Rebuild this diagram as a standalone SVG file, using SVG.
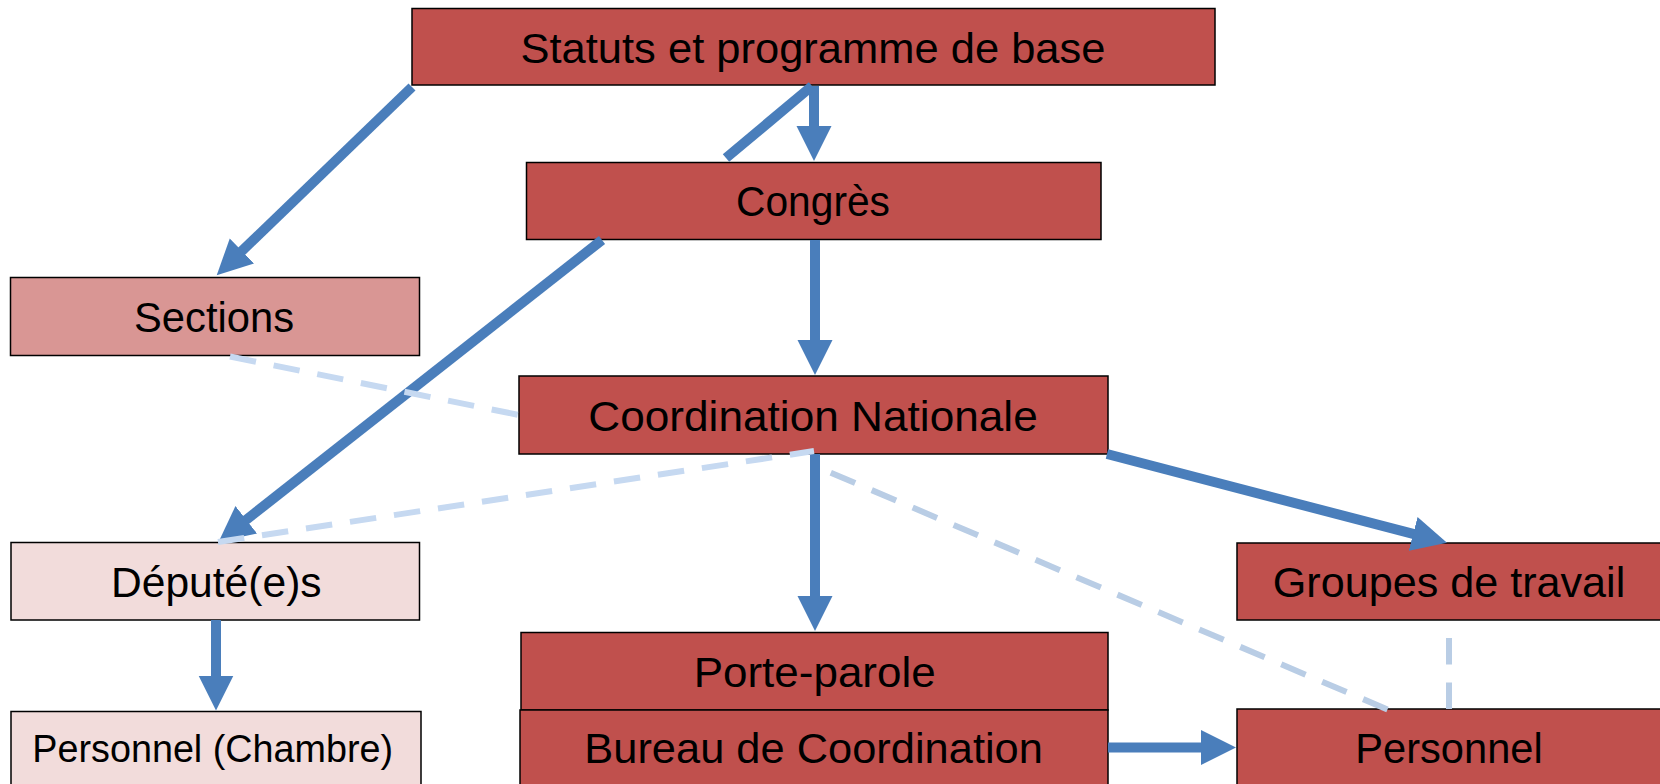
<svg xmlns="http://www.w3.org/2000/svg" width="1660" height="784" viewBox="0 0 1660 784">
  <style>
    .box { stroke: #000000; stroke-width: 1.5; }
    .red { fill: #C0504D; }
    .mid { fill: #D99694; }
    .pale { fill: #F2DCDB; }
    .lbl { font-family: "Liberation Sans", Arial, sans-serif; font-size: 42px; fill: #000000; text-anchor: middle; }
    .solid { stroke: #4A7EBB; stroke-width: 10; fill: none; stroke-linecap: butt; }
    .dash1 { stroke: #C6D9F1; stroke-width: 6; fill: none; stroke-dasharray: 26.5 18; }
    .dash2 { stroke: #B9CDE5; stroke-width: 6; fill: none; stroke-dasharray: 26.5 18; }
  </style>
  <defs>
    <marker id="head" markerUnits="userSpaceOnUse" markerWidth="36" markerHeight="36" refX="1" refY="17.5" orient="auto" viewBox="0 0 36 35">
      <path d="M0,0 L35,17.5 L0,35 z" fill="#4A7EBB"/>
    </marker>
  </defs>
  <rect width="1660" height="784" fill="#FFFFFF"/>

  <g id="statuts">
    <rect class="box red" x="412" y="8.5" width="803" height="76.5"/>
    <text class="lbl" x="813" y="62.7" textLength="585" lengthAdjust="spacingAndGlyphs">Statuts et programme de base</text>
  </g>
  <g id="congres">
    <rect class="box red" x="526.5" y="162.5" width="574.5" height="77"/>
    <text class="lbl" x="813" y="216.3" textLength="154" lengthAdjust="spacingAndGlyphs">Congrès</text>
  </g>
  <g id="sections">
    <rect class="box mid" x="10.5" y="277.5" width="409" height="78"/>
    <text class="lbl" x="214" y="331.7" textLength="160" lengthAdjust="spacingAndGlyphs">Sections</text>
  </g>
  <g id="coordination-nationale">
    <rect class="box red" x="519" y="376" width="589" height="78"/>
    <text class="lbl" x="813" y="430.7" textLength="449.5" lengthAdjust="spacingAndGlyphs">Coordination Nationale</text>
  </g>
  <g id="deputes">
    <rect class="box pale" x="11" y="542.5" width="408.5" height="77.5"/>
    <text class="lbl" x="216.3" y="596.7" textLength="210.7" lengthAdjust="spacingAndGlyphs">Député(e)s</text>
  </g>
  <g id="groupes">
    <rect class="box red" x="1237" y="543" width="430" height="77"/>
    <text class="lbl" x="1449" y="596.7" textLength="352.5" lengthAdjust="spacingAndGlyphs">Groupes de travail</text>
  </g>
  <g id="porte-parole">
    <rect class="box red" x="521" y="632.5" width="587" height="77.5"/>
    <text class="lbl" x="814.7" y="686.7" textLength="242" lengthAdjust="spacingAndGlyphs">Porte-parole</text>
  </g>
  <g id="bureau">
    <rect class="box red" x="520" y="710" width="588" height="80"/>
    <text class="lbl" x="813.6" y="763.3" textLength="458.6" lengthAdjust="spacingAndGlyphs">Bureau de Coordination</text>
  </g>
  <g id="personnel-chambre">
    <rect class="box pale" x="11" y="711.5" width="410" height="80"/>
    <text class="lbl" x="212.7" y="762" style="font-size:38px" textLength="360.7" lengthAdjust="spacingAndGlyphs">Personnel (Chambre)</text>
  </g>
  <g id="personnel">
    <rect class="box red" x="1237" y="709" width="430" height="80"/>
    <text class="lbl" x="1449" y="763" textLength="187.5" lengthAdjust="spacingAndGlyphs">Personnel</text>
  </g>

  <g id="connectors">
    <line class="solid" x1="412" y1="87" x2="241.2" y2="251.7" marker-end="url(#head)"/>
    <line class="solid" x1="814" y1="86" x2="814" y2="127" marker-end="url(#head)"/>
    <line class="solid" x1="812" y1="86" x2="726" y2="158"/>
    <line class="solid" x1="815" y1="240" x2="815" y2="341" marker-end="url(#head)"/>
    <line class="solid" x1="602" y1="240" x2="245.5" y2="520.4" marker-end="url(#head)"/>
    <line class="solid" x1="815" y1="454" x2="815" y2="597" marker-end="url(#head)"/>
    <line class="solid" x1="1107" y1="454" x2="1414.1" y2="534.2" marker-end="url(#head)"/>
    <line class="solid" x1="216" y1="620" x2="216" y2="676.5" marker-end="url(#head)"/>
    <line class="solid" x1="1108" y1="747.5" x2="1202" y2="747.5" marker-end="url(#head)"/>

    <line class="dash1" x1="230" y1="356.5" x2="519" y2="415"/>
    <line class="dash1" x1="218" y1="542" x2="814" y2="451"/>
    <line class="dash2" x1="1387.5" y1="709.5" x2="815" y2="466"/>
    <line class="dash2" x1="1449" y1="709" x2="1449" y2="620"/>
  </g>
</svg>
